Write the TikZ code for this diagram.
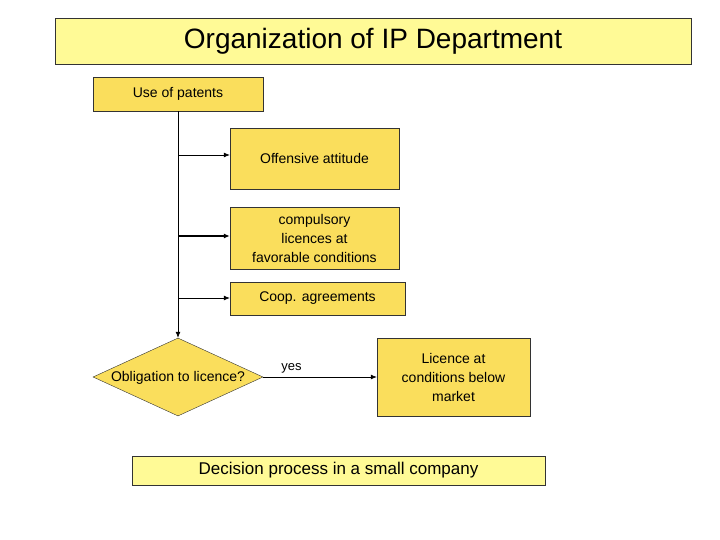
\documentclass[tikz,border=0pt]{standalone}
\usepackage{fontspec}
\setmainfont{Liberation Sans}
\usetikzlibrary{shapes.geometric,arrows.meta}
\definecolor{boxy}{RGB}{250,222,92}
\definecolor{liteY}{RGB}{255,250,150}
\tikzset{
  bx/.style={draw=black!80,fill=boxy,inner sep=0pt,align=center,font=\fontsize{14}{19}\selectfont},
  hdr/.style={draw=black!80,fill=liteY,inner sep=0pt,align=center},
  arr/.style={-{Latex[length=6pt,width=5pt]},line width=0.7pt}
}
\begin{document}
\begin{tikzpicture}[x=1pt,y=-1pt]
\useasboundingbox (0,0) rectangle (720,540);
\node[hdr,minimum width=636pt,minimum height=46pt,font=\fontsize{28}{32}\selectfont] (title) at (373,41) {Organization of IP Department};
\node[bx,minimum width=170pt,minimum height=34pt] (use) at (178,94) {Use of patents};
\node[bx,minimum width=169pt,minimum height=61pt] (off) at (314.5,158.5) {Offensive attitude};
\node[bx,minimum width=169pt,minimum height=62pt] (comp) at (314.5,238) {compulsory\\licences at\\favorable conditions};
\node[bx,minimum width=175pt,minimum height=33pt] (coop) at (317.5,298.5) {Coop. agreements};
\node[bx,diamond,aspect=2.23,minimum width=170pt,minimum height=78pt,inner sep=0pt] (dec) at (178,377) {};
\node[font=\fontsize{14}{19}\selectfont] (dectext) at (178,378) {Obligation to licence?};
\node[bx,minimum width=153pt,minimum height=78pt] (lic) at (453.5,377) {Licence at\\conditions below\\market};
\node[hdr,minimum width=413pt,minimum height=29pt,font=\fontsize{17}{20}\selectfont] (dp) at (338.5,470.5) {Decision process in a small company};
\draw[arr] (use.south) -- (dec.north);
\coordinate (b1) at (178,155);
\coordinate (b2) at (178,236);
\coordinate (b3) at (178,298);
\draw[arr] (b1) -- (b1 -| off.west);
\draw[arr,line width=1.2pt] (b2) -- (b2 -| comp.west);
\draw[arr] (b3) -- (b3 -| coop.west);
\draw[arr] (dec.east) -- (dec.east -| lic.west) node[pos=0.25,above,font=\fontsize{13}{15}\selectfont] (yes) {yes};
\end{tikzpicture}
\end{document}
